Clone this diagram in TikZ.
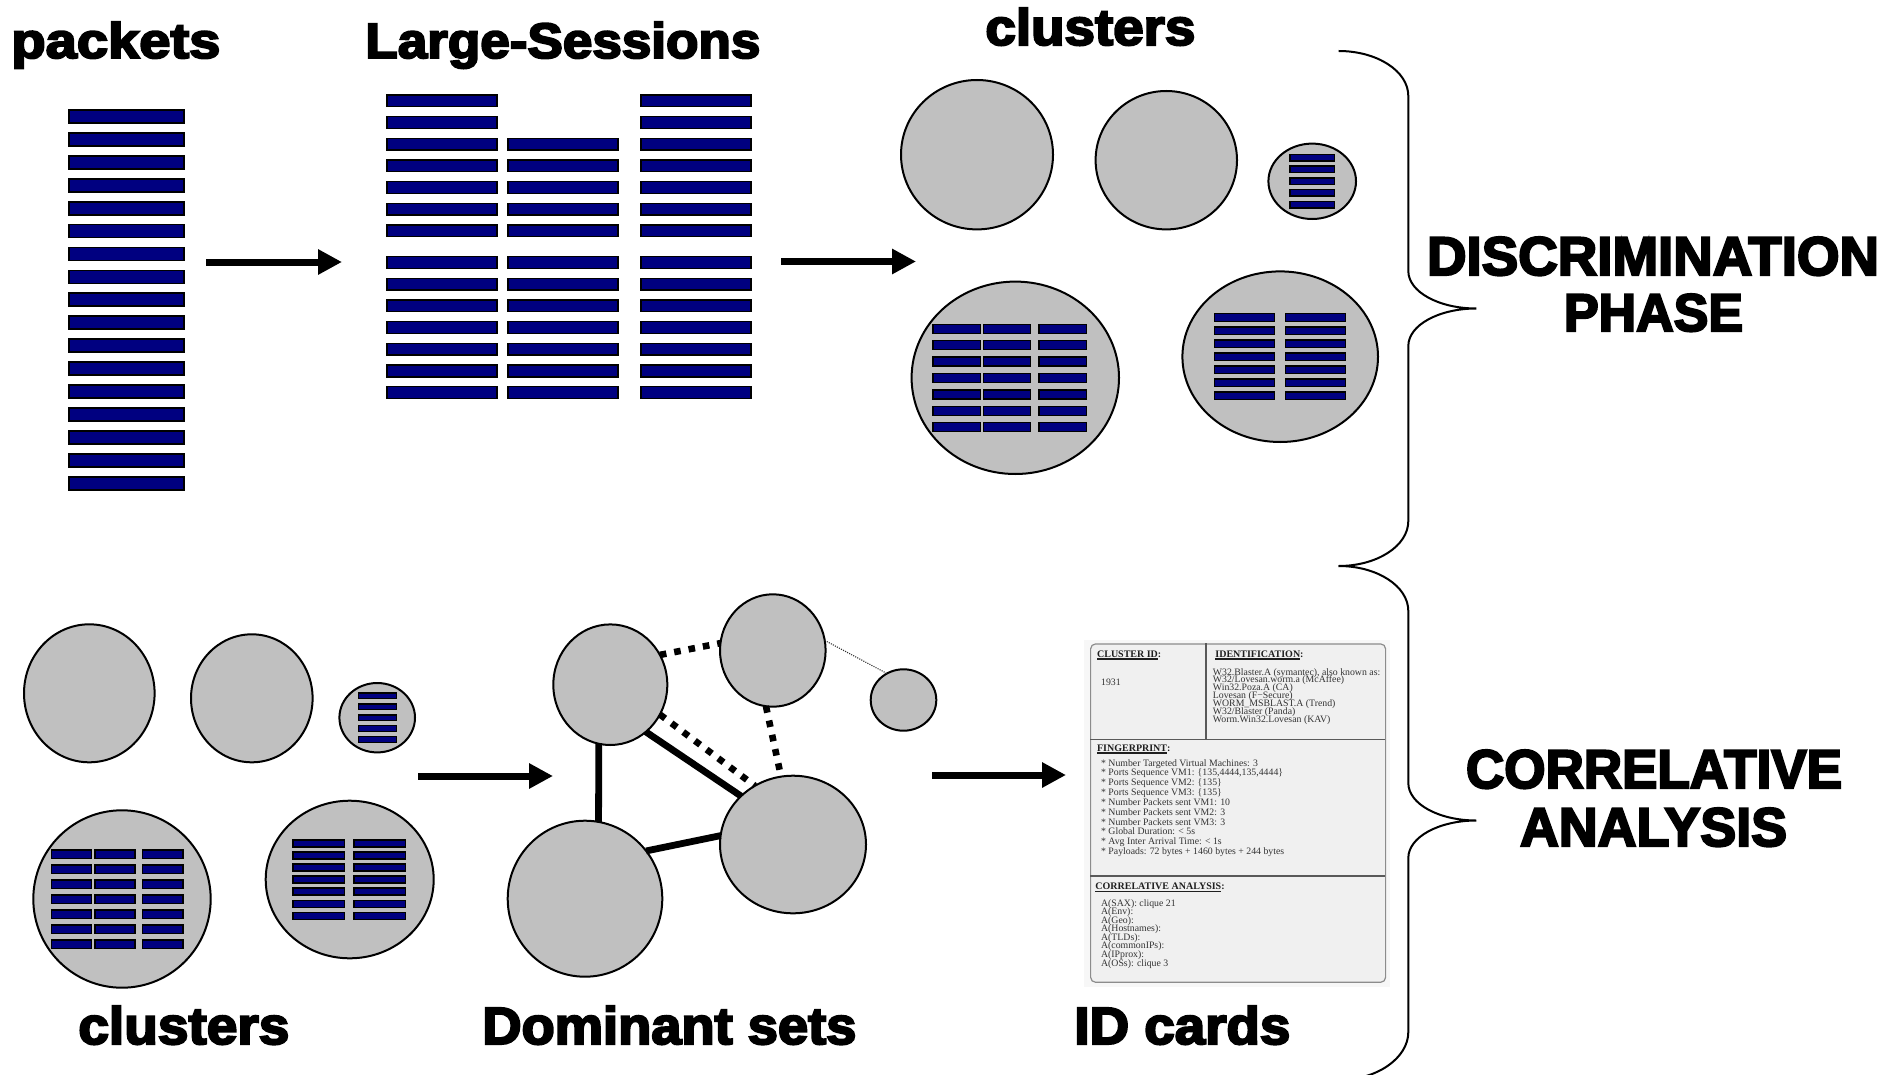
\documentclass[tikz,border=0pt]{standalone}
\usepackage{fontspec}
\usepackage{graphicx}
\setmainfont{Liberation Serif}
\newfontfamily\heavyfont{Liberation Sans Bold}[FakeBold=4]
\usetikzlibrary{shapes.geometric,arrows.meta}

\definecolor{pktnavy}{RGB}{0,0,128}
\definecolor{clgray}{RGB}{192,192,192}

% underline a card heading with a firm rule
\newcommand\headul[1]{\sbox0{#1}\rlap{\rule[-1.3pt]{\wd0}{0.6pt}}\usebox0}

% a block of packet bars: columns xa/xb, first top, pitch, last row index, bar height
\newcommand\barstack[5]{%
  \foreach \xa/\xb in {#1}{%
    \foreach \k in {0,...,#4}{%
      \draw[pkt] (\xa,{#2+#3*\k}) rectangle (\xb,{#2+#3*\k+#5});}}}

\tikzset{
  pkt/.style={fill=pktnavy, draw=black, line width=0.75pt},
  cluster/.style={ellipse, draw=black, fill=clgray, line width=1pt, inner sep=0pt, outer sep=0pt},
  flow/.style={line width=3.5pt, -{Triangle[length=12pt,width=12pt]}},
  tie/.style={line width=3.4pt},
  weaktie/.style={line width=3.3pt, dash pattern=on 3.3pt off 4pt},
  faint/.style={line width=0.55pt, dash pattern=on 0.55pt off 0.6pt, black!80},
  bracket/.style={line width=1pt},
  title/.style={inner sep=0pt, anchor=base west, font=\heavyfont},
  phase/.style={inner sep=0pt, anchor=base, font=\heavyfont},
  cardshade/.style={fill=black!3, inner sep=0pt, outer sep=0pt, anchor=north west},
  card/.style={draw=black!45, fill=black!6, line width=0.6pt, rounded corners=2.5pt, inner sep=0pt, anchor=north west},
  cardrule/.style={line width=0.8pt, black!65},
  idtext/.style={anchor=base west, inner sep=0pt, font=\fontsize{4.9pt}{5pt}\selectfont, text=black!80},
  idhead/.style={anchor=base west, inner sep=0pt, font=\fontsize{5pt}{5pt}\selectfont\bfseries, text=black!88},
}

\begin{document}
\begin{tikzpicture}[x=0.5pt,y=-0.5pt]
\useasboundingbox (0,0) rectangle (1904,1075);

% ---------- headings ----------
\node[title] (tPackets) at (11,58) {\resizebox{104.5pt}{18pt}{packets}};
\node[title] (tSessions) at (365,58) {\resizebox{197.5pt}{18pt}{Large-Sessions}};
\node[title] (tClustersTop) at (985,45) {\resizebox{105pt}{18.5pt}{clusters}};
\node[title] (tClustersBot) at (78,1044) {\resizebox{105.5pt}{19pt}{clusters}};
\node[title] (tDominant) at (482,1044) {\resizebox{187pt}{19pt}{Dominant sets}};
\node[title] (tCards) at (1074,1044) {\resizebox{108pt}{19pt}{ID cards}};
\node[phase] (pDisc) at (1653,275) {\resizebox{226pt}{19pt}{DISCRIMINATION}};
\node[phase] (pPhase) at (1653.5,331) {\resizebox{89.5pt}{18.5pt}{PHASE}};
\node[phase] (pCorr) at (1654,788) {\resizebox{188pt}{19pt}{CORRELATIVE}};
\node[phase] (pAnal) at (1653.5,846) {\resizebox{133.5pt}{19pt}{ANALYSIS}};

% ---------- packets ----------
\begin{scope}[pkt/.append style={line width=0.9pt}]
\barstack{69/184}{110}{22.92}{16}{13}
\end{scope}

% ---------- large sessions ----------
\barstack{387/497, 641/751}{95}{21.67}{6}{11.7}
\barstack{508/618}{138.34}{21.67}{4}{11.7}
\barstack{387/497, 508/618, 641/751}{256.7}{21.67}{6}{11.7}

% ---------- clusters (discrimination) ----------
\node[cluster, minimum width=76pt, minimum height=74.7pt] (cA) at (977,154.7) {};
\node[cluster, minimum width=70.7pt, minimum height=69.2pt] (cB) at (1166.3,160.2) {};
\node[cluster, minimum width=43.8pt, minimum height=37.7pt] (cC) at (1312.2,181.3) {};
\node[cluster, minimum width=103.7pt, minimum height=96.2pt] (cD) at (1015.3,377.8) {};
\node[cluster, minimum width=97.8pt, minimum height=85.3pt] (cE) at (1280.2,356.7) {};
\barstack{1290/1334.7}{154.3}{11.75}{4}{6.7}
\barstack{933/980.3, 983.7/1030.7, 1039/1086.7}{324.3}{16.4}{6}{9}
\barstack{1214.3/1274.3, 1285.7/1345.7}{313.7}{13.05}{6}{7.7}

% ---------- clusters (correlative) ----------
\node[cluster, minimum width=65.3pt, minimum height=69pt] (kA) at (89.3,693.3) {};
\node[cluster, minimum width=60.8pt, minimum height=64pt] (kB) at (251.8,698.3) {};
\node[cluster, minimum width=37.8pt, minimum height=34.7pt] (kC) at (377.2,717.7) {};
\node[cluster, minimum width=88.7pt, minimum height=88.7pt] (kD) at (122,899) {};
\node[cluster, minimum width=84pt, minimum height=78.8pt] (kE) at (349.7,879.5) {};
\barstack{358.3/396.3}{693}{10.9}{4}{5.7}
\barstack{51.7/91.7, 95/135, 142.3/183}{850}{15}{6}{8.3}
\barstack{293/344.3, 354/405.7}{840}{12.05}{6}{7}

% ---------- dominant sets ----------
\node[cluster, minimum width=57pt, minimum height=60.3pt] (N1) at (610.3,684.7) {};
\node[cluster, minimum width=52.8pt, minimum height=56.2pt] (N2) at (772.8,650.5) {};
\node[cluster, minimum width=32.8pt, minimum height=30.7pt] (N3) at (903.5,700) {};
\node[cluster, minimum width=73pt, minimum height=68.8pt] (N4) at (793,844.5) {};
\node[cluster, minimum width=77.3pt, minimum height=78pt] (N5) at (585,898.7) {};
\draw[weaktie] (N1.31) -- (N2.172);
\draw[faint] (N2.11) -- (N3.122);
\draw[weaktie] (N1.-31) -- (N4.123);
\draw[tie] (N1.-53) -- (N4.137);
\draw[weaktie] (N2.-97) -- (N4.100);
\draw[tie] (N1.-101) -- (N5.80);
\draw[tie] (N5.38) -- (N4.173);

% ---------- process arrows ----------
\coordinate (a1s) at (206,262);   \coordinate (a1e) at (342,262);
\coordinate (a2s) at (781,261.5); \coordinate (a2e) at (916,261.5);
\coordinate (a3s) at (418,776);   \coordinate (a3e) at (553,776);
\coordinate (a4s) at (932,775);   \coordinate (a4e) at (1066,775);
\draw[flow] (a1s) -- (a1e);
\draw[flow] (a2s) -- (a2e);
\draw[flow] (a3s) -- (a3e);
\draw[flow] (a4s) -- (a4e);

% ---------- ID card ----------
\node[cardshade, minimum width=153pt, minimum height=173.5pt] (cardShade) at (1084,640) {};
\node[card, minimum width=147.5pt, minimum height=169.2pt] (card) at (1090,643.3) {};
\draw[cardrule] (1090,739.3) -- (1385,739.3);
\draw[cardrule] (1090,876) -- (1385,876);
\draw[cardrule] (1206,643.3) -- (1206,739.3);

\node[idhead] (hCluster) at (1096.7,657) {\headul{CLUSTER ID}:};
\node[idtext] (vCluster) at (1100.7,685) {1931};
\node[idhead] (hIdent) at (1215,657) {\headul{IDENTIFICATION}:};
\foreach \t [count=\i from 0] in {%
  {W32.Blaster.A (symantec), also known as:},
  {W32/Lovesan.worm.a (McAffee)},
  {Win32.Poza.A (CA)},
  {Lovesan (F−Secure)},
  {WORM\_MSBLAST.A (Trend)},
  {W32/Blaster (Panda)},
  {Worm.Win32.Lovesan (KAV)}}
  \node[idtext] (ident\i) at (1212.5,{675+7.95*\i}) {\t};

\node[idhead] (hFinger) at (1096.7,751) {\headul{FINGERPRINT}:};
\foreach \t [count=\i from 0] in {%
  {* Number Targeted Virtual Machines: 3},
  {* Ports Sequence VM1: \{135,4444,135,4444\}},
  {* Ports Sequence VM2: \{135\}},
  {* Ports Sequence VM3: \{135\}},
  {* Number Packets sent VM1: 10},
  {* Number Packets sent VM2: 3},
  {* Number Packets sent VM3: 3},
  {* Global Duration: < 5s},
  {* Avg Inter Arrival Time: < 1s},
  {* Payloads: 72 bytes + 1460 bytes + 244 bytes}}
  \node[idtext] (finger\i) at (1100.7,{766+9.85*\i}) {\t};

\node[idhead] (hCorr) at (1095,889.5) {\headul{CORRELATIVE ANALYSIS}:};
\foreach \t [count=\i from 0] in {%
  {A(SAX): clique 21},
  {A(Env):},
  {A(Geo):},
  {A(Hostnames):},
  {A(TLDs):},
  {A(commonIPs):},
  {A(IPprox):},
  {A(OSs): clique 3}}
  \node[idtext] (corr\i) at (1100.7,{906+8.57*\i}) {\t};

% ---------- phase brackets ----------
\draw[bracket] (1338.6,51) .. controls (1377,51) and (1408.3,71) .. (1408.3,96)
  -- (1408.3,271) .. controls (1408.3,292) and (1439,308.5) .. (1476.4,308.5)
  .. controls (1439,308.5) and (1408.3,325) .. (1408.3,346)
  -- (1408.3,521) .. controls (1408.3,546) and (1377,566) .. (1338.6,566);
\draw[bracket] (1338.6,566) .. controls (1377,566) and (1408.3,586) .. (1408.3,611)
  -- (1408.3,783) .. controls (1408.3,804) and (1439,820.5) .. (1476.4,820.5)
  .. controls (1439,820.5) and (1408.3,837) .. (1408.3,858)
  -- (1408.3,1032) .. controls (1408.3,1058) and (1377,1080) .. (1338.6,1080);
\end{tikzpicture}
\end{document}
